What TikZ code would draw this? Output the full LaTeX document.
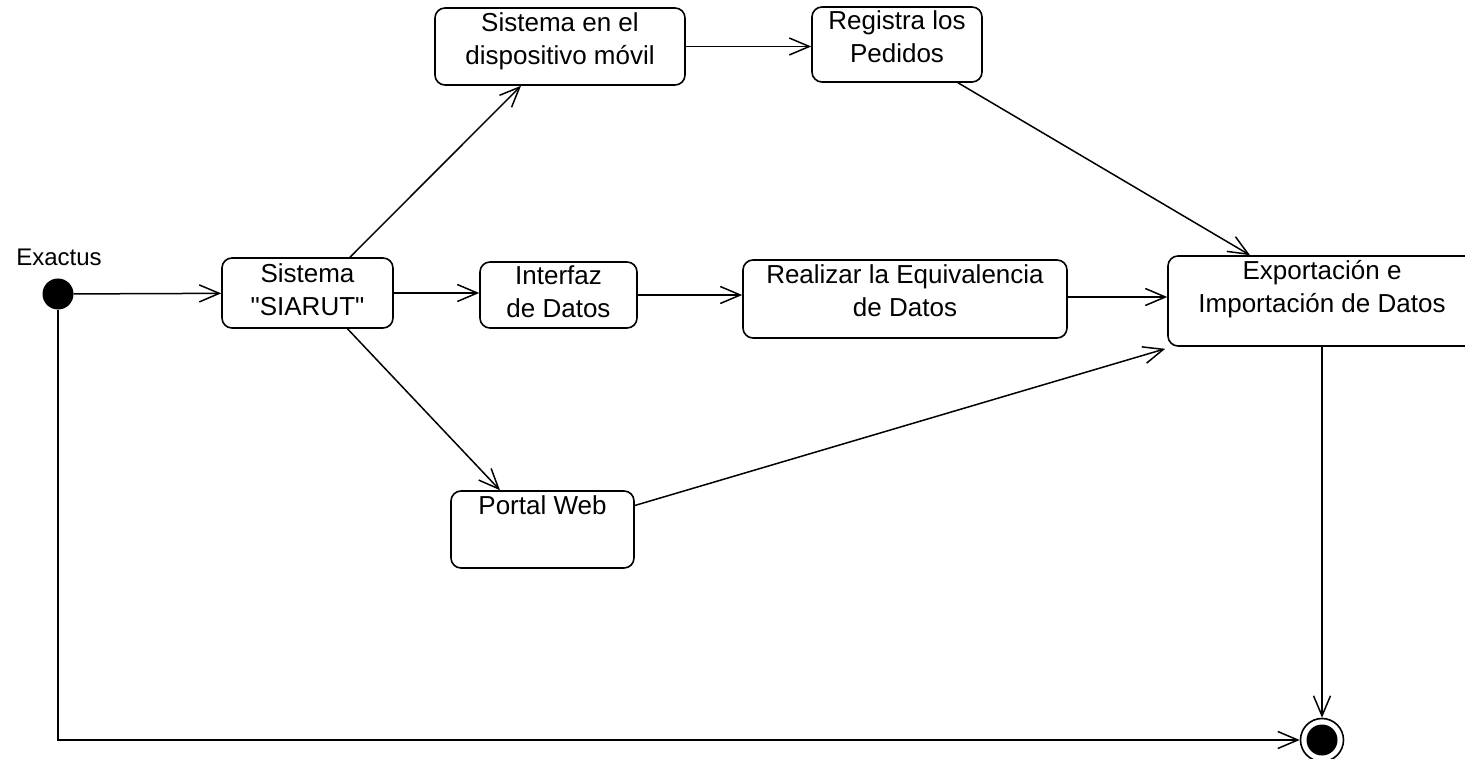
\documentclass[tikz,border=0pt]{standalone}
\usepackage{fontspec}
\setmainfont{Liberation Sans}
\usetikzlibrary{arrows.meta,calc}
\begin{document}
\begin{tikzpicture}[x=1pt,y=-1pt,
  box/.style={draw,rounded corners=10pt,line width=1.6pt,inner sep=0pt},
  lbl/.style={anchor=north,align=center,inner sep=0pt,
    font=\fontsize{26}{33}\selectfont},
  flow/.style={line width=1.5pt,
    -{Straight Barb[length=20pt,width=17pt,line width=1.5pt]}}]
\useasboundingbox[fill=white] (0,0) rectangle (1465,759);

% activity boxes
\node[box,minimum width=250pt,minimum height=77pt] (mobile) at (560,46.5) {};
\node[box,minimum width=170pt,minimum height=75pt] (regis) at (897,44.5) {};
\node[box,minimum width=171pt,minimum height=70pt] (siarut) at (307.5,293) {};
\node[box,minimum width=157pt,minimum height=66pt] (interf) at (558.5,295) {};
\node[box,minimum width=324pt,minimum height=78pt] (equiv) at (905,299) {};
\node[box,minimum width=308pt,minimum height=90pt] (export) at (1322,301) {};
\node[box,minimum width=183pt,minimum height=77pt] (portal) at (542.5,529.5) {};

% box texts
\node[lbl] (tmobile) at ($(mobile.north)+(0,5)$) {Sistema en el\\dispositivo móvil};
\node[lbl] (tregis) at ($(regis.north)+(0,4)$) {Registra los\\Pedidos};
\node[lbl] (tsiarut) at ($(siarut.north)+(0,6)$) {Sistema\\\textquotedbl SIARUT\textquotedbl};
\node[lbl] (tinterf) at ($(interf.north)+(0,4)$) {Interfaz\\de Datos};
\node[lbl] (tequiv) at ($(equiv.north)+(0,5)$) {Realizar la Equivalencia\\de Datos};
\node[lbl] (texport) at ($(export.north)+(0,5)$) {Exportación e\\Importación de Datos};
\node[lbl] (tportal) at ($(portal.north)+(0,5)$) {Portal Web};

% initial and final states
\node[circle,fill=black,minimum size=31pt,inner sep=0pt] (init) at (58,294) {};
\node[anchor=base,inner sep=0pt,font=\fontsize{24}{28}\selectfont] (exactus) at (59,266) {Exactus};
\node[circle,draw,line width=1.6pt,minimum size=43pt,inner sep=0pt] (final) at (1322,740) {};
\fill (final.center) circle (15.5);

% transitions
\draw[flow] (init) -- (siarut);
\draw[flow] ($(siarut.north)+(42.5,0)$) -- ($(mobile.south)+(-39,0)$);
\draw[flow] (siarut.east) -- (siarut.east -| interf.west);
\draw[flow] ($(siarut.south)+(40,0)$) -- ($(portal.north)+(-42.5,0)$);
\draw[flow] (mobile.east) -- (mobile.east -| regis.west);
\draw[flow] (interf.east) -- (interf.east -| equiv.west);
\draw[flow] ($(regis.south)+(61,0)$) -- ($(export.north)+(-72,0)$);
\draw[flow] ($(equiv.east)+(0,-2)$) -- ($(equiv.east -| export.west)+(0,-2)$);
\draw[flow] ($(portal.east)+(0,-24)$) -- ($(export.south west)+(-2,2)$);
\draw[flow] (export.south) -- (final.north);
\draw[flow] (init.south) |- (final.west);
\end{tikzpicture}
\end{document}
